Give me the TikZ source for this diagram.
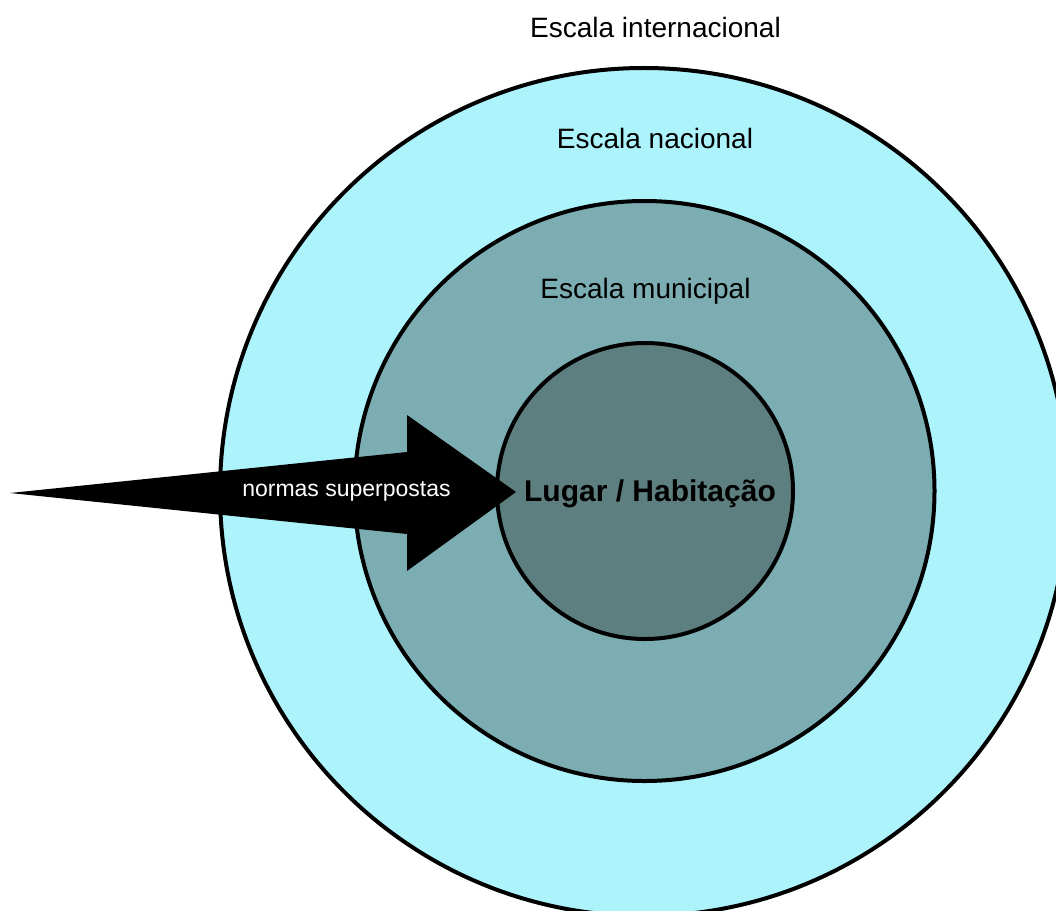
\documentclass[tikz,border=0pt]{standalone}
\usepackage{fontspec}
\setmainfont{Liberation Sans}
\begin{document}
\begin{tikzpicture}[x=1bp,y=-1bp,
  ring/.style={circle,draw=black,line width=4bp,inner sep=0pt},
  scalelabel/.style={anchor=base,inner sep=0pt,font=\fontsize{28bp}{32bp}\selectfont},
]
\definecolor{intcyan}{RGB}{173,243,252}
\definecolor{munteal}{RGB}{123,173,178}
\definecolor{placeteal}{RGB}{94,127,128}

\useasboundingbox (0,0) rectangle (1056,911);
\clip (0,0) rectangle (1056,911);

% concentric scales
\node[ring,fill=intcyan,minimum size=848bp] (nat) at (644,492) {};
\node[ring,fill=munteal,minimum size=580bp] (mun) at (644.5,491) {};
\node[ring,fill=placeteal,minimum size=296bp] (place) at (645,491) {};

% scale labels
\node[scalelabel] (lint) at (655.5,37) {Escala internacional};
\node[scalelabel] (lnat) at (655,148) {Escala nacional};
\node[scalelabel] (lmun) at (645.5,298) {Escala municipal};

% tapered arrow pointing to the centre
\coordinate (tail) at (10,493);
\coordinate (tip) at (516,492);
\fill[black] (tail) -- (407,452) -- (407,415) -- (tip) -- (407,571) -- (407,534) -- cycle;
\node[anchor=base,inner sep=0pt,text=white,font=\fontsize{23bp}{26bp}\selectfont] (norm) at (346.5,496) {normas superpostas};

% centre label
\node[anchor=base,inner sep=0pt,font=\fontsize{30bp}{34bp}\selectfont\bfseries] (lplace) at (650,501) {Lugar / Habitação};
\end{tikzpicture}
\end{document}
